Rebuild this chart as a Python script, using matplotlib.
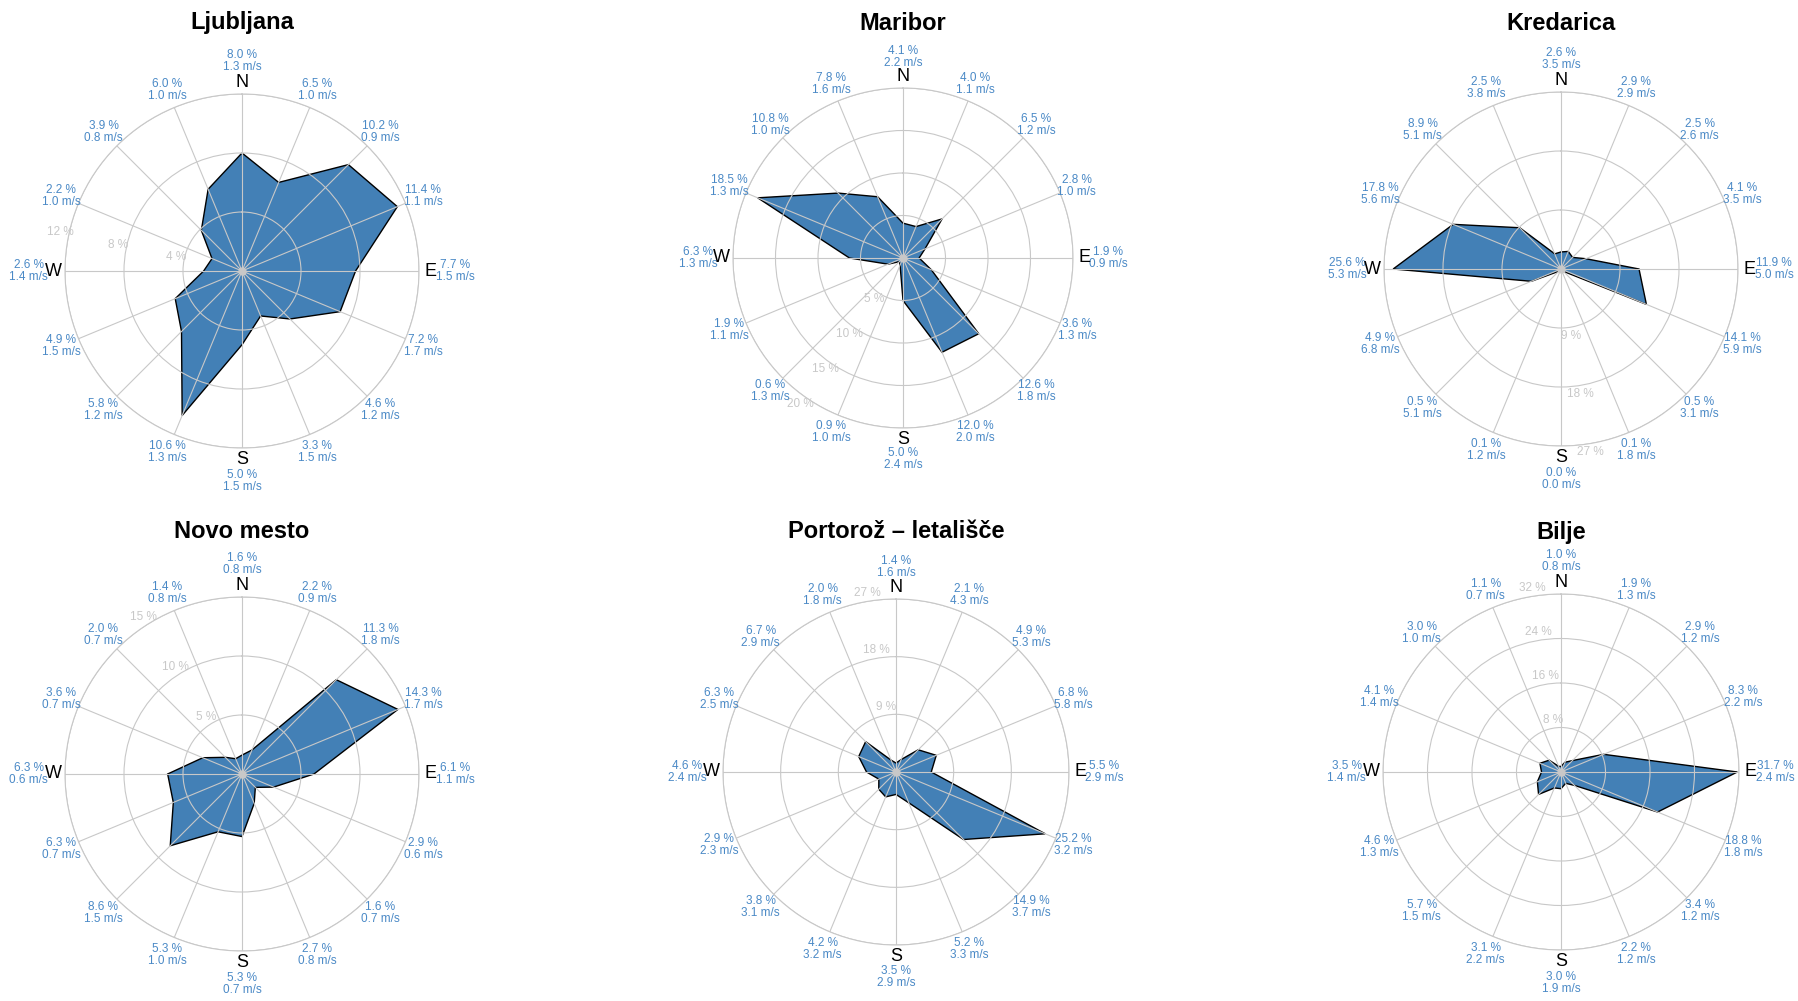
import numpy as np
import matplotlib
matplotlib.use('Agg')
import matplotlib.pyplot as plt

plt.rcParams['font.family'] = ['Liberation Sans', 'DejaVu Sans']

# Smeri vetra (16)
smeri = ['N', 'NNE', 'NE', 'ENE', 'E', 'ESE', 'SE', 'SSE',
         'S', 'SSW', 'SW', 'WSW', 'W', 'WNW', 'NW', 'NNW']

# Pogostost (%) in povprečna hitrost (m/s) po smereh
ljubljana_pct = [8.0, 6.5, 10.2, 11.4, 7.7, 7.2, 4.6, 3.3, 5.0, 10.6, 5.8, 4.9, 2.6, 2.2, 3.9, 6.0]
ljubljana_hit = [1.3, 1.0, 0.9, 1.1, 1.5, 1.7, 1.2, 1.5, 1.5, 1.3, 1.2, 1.5, 1.4, 1.0, 0.8, 1.0]

maribor_pct = [4.1, 4.0, 6.5, 2.8, 1.9, 3.6, 12.6, 12.0, 5.0, 0.9, 0.6, 1.9, 6.3, 18.5, 10.8, 7.8]
maribor_hit = [2.2, 1.1, 1.2, 1.0, 0.9, 1.3, 1.8, 2.0, 2.4, 1.0, 1.3, 1.1, 1.3, 1.3, 1.0, 1.6]

kredarica_pct = [2.6, 2.9, 2.5, 4.1, 11.9, 14.1, 0.5, 0.1, 0.0, 0.1, 0.5, 4.9, 25.6, 17.8, 8.9, 2.5]
kredarica_hit = [3.5, 2.9, 2.6, 3.5, 5.0, 5.9, 3.1, 1.8, 0.0, 1.2, 5.1, 6.8, 5.3, 5.6, 5.1, 3.8]

novo_mesto_pct = [1.6, 2.2, 11.3, 14.3, 6.1, 2.9, 1.6, 2.7, 5.3, 5.3, 8.6, 6.3, 6.3, 3.6, 2.0, 1.4]
novo_mesto_hit = [0.8, 0.9, 1.8, 1.7, 1.1, 0.6, 0.7, 0.8, 0.7, 1.0, 1.5, 0.7, 0.6, 0.7, 0.7, 0.8]

portoroz_pct = [1.4, 2.1, 4.9, 6.8, 5.5, 25.2, 14.9, 5.2, 3.5, 4.2, 3.8, 2.9, 4.6, 6.3, 6.7, 2.0]
portoroz_hit = [1.6, 4.3, 5.3, 5.8, 2.9, 3.2, 3.7, 3.3, 2.9, 3.2, 3.1, 2.3, 2.4, 2.5, 2.9, 1.8]

bilje_pct = [1.0, 1.9, 2.9, 8.3, 31.7, 18.8, 3.4, 2.2, 3.0, 3.1, 5.7, 4.6, 3.5, 4.1, 3.0, 1.1]
bilje_hit = [0.8, 1.3, 1.2, 2.2, 2.4, 1.8, 1.2, 1.2, 1.9, 2.2, 1.5, 1.3, 1.4, 1.4, 1.0, 0.7]

# ime, %, m/s, max radij, korak obročev, kot oznak obročev, središče (px), polmer (px)
postaje = [
    ('Ljubljana', ljubljana_pct, ljubljana_hit, 12, 4, 282, (242, 271), 177),
    ('Maribor', maribor_pct, maribor_hit, 20, 5, 215, (903, 258), 170),
    ('Kredarica', kredarica_pct, kredarica_hit, 27, 9, 171, (1561, 269), 177),
    ('Novo mesto', novo_mesto_pct, novo_mesto_hit, 15, 5, 328, (242, 774), 177),
    ('Portorož – letališče', portoroz_pct, portoroz_hit, 27, 9, 351, (896, 772), 173),
    ('Bilje', bilje_pct, bilje_hit, 32, 8, 351, (1561, 772), 178),
]

W, H = 1798, 1001
fig = plt.figure(figsize=(W / 100, H / 100), dpi=100)

kot = np.deg2rad(np.arange(16) * 22.5)
modra = '#4380b6'
oznaka = '#4a89c6'
siva = '#c8c8c8'

for ime, pct, hit, rmax, korak, rlab, (cx, cy), R in postaje:
    ax = fig.add_axes([(cx - R) / W, 1 - (cy + R) / H, 2 * R / W, 2 * R / H], projection='polar')
    ax.set_theta_zero_location('N')
    ax.set_theta_direction(-1)

    t = np.append(kot, kot[0])
    v = np.append(pct, pct[0])
    ax.fill(t, v, facecolor=modra, edgecolor='black', linewidth=1, zorder=1)
    ax.plot(0, 0, 'o', color=siva, ms=5, zorder=3)

    ax.set_ylim(0, rmax)
    ticks = np.arange(korak, rmax + korak, korak)
    ax.set_yticks(ticks)
    ax.set_yticklabels([])
    for tk in ticks:
        ax.text(np.deg2rad(rlab), tk + 0.048 * rmax, f'{tk} %', color=siva, fontsize=8.5,
                ha='center', va='center')
    ax.set_xticks(kot)
    ax.set_xticklabels([])
    ax.grid(True, color=siva, linewidth=0.8)
    ax.set_axisbelow(False)
    ax.spines['polar'].set_color(siva)
    ax.spines['polar'].set_linewidth(0.8)

    for i, (p, s) in enumerate(zip(pct, hit)):
        kardinalna = smeri[i] in ('N', 'E', 'S', 'W')
        if smeri[i] in ('N', 'S'):
            r = rmax * 1.185
        elif kardinalna:
            r = rmax * 1.205
        else:
            r = rmax * 1.107
        ax.text(kot[i], r, f'{p:.1f} %\n{s:.1f} m/s', color=oznaka, fontsize=8.5,
                ha='center', va='center', linespacing=1.0)
        if kardinalna:
            ax.text(kot[i], rmax * 1.066, smeri[i], color='black', fontsize=13,
                    ha='center', va='center')

    ty = 23 if cy < 500 else 532
    fig.text(cx / W, 1 - ty / H, ime, fontsize=17, fontweight='bold',
             ha='center', va='center')

plt.savefig('out.png', dpi=100)
